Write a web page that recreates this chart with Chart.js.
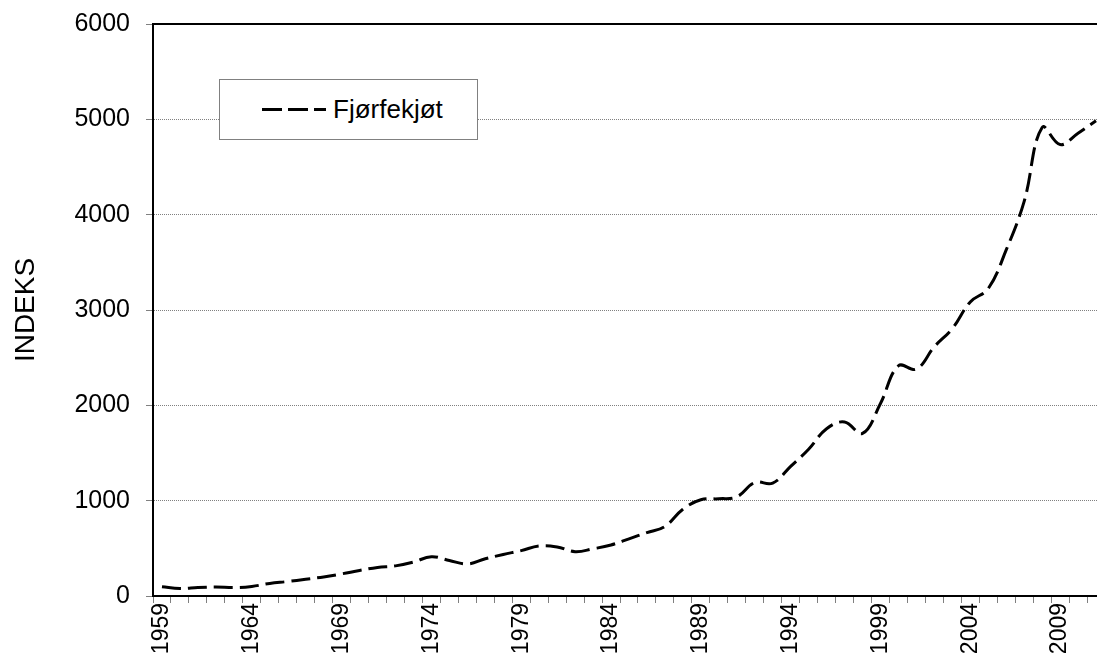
<!DOCTYPE html>
<html>
<head>
<meta charset="utf-8">
<script src="https://cdn.jsdelivr.net/npm/chart.js@4"></script>
<style>
html,body{margin:0;padding:0;background:#fff;overflow:hidden;width:1097px;height:659px}
#wrap{position:relative;width:1105px;height:659px}
canvas{display:block}
#legend{position:absolute;left:219px;top:79px;width:257px;height:59px;border:1px solid #808080;background:#fff;font-family:'Liberation Sans',Arial,sans-serif;color:#000}
#legend svg{position:absolute;left:0;top:0}
#legtext{position:absolute;left:113px;top:16px;font-size:26px;line-height:26px;white-space:nowrap}
</style>
</head>
<body>
<div id="wrap">
<canvas id="c" width="1105" height="659"></canvas>
<div id="legend">
<svg width="257" height="59"><line x1="42" y1="29.5" x2="106" y2="29.5" stroke="#000" stroke-width="3" stroke-dasharray="20 6"/></svg>
<span id="legtext"></span>
</div>
</div>
<script>
const years = ['1959','1960','1961','1962','1963','1964','1965','1966','1967','1968',
  '1969','1970','1971','1972','1973','1974','1975','1976','1977','1978',
  '1979','1980','1981','1982','1983','1984','1985','1986','1987','1988',
  '1989','1990','1991','1992','1993','1994','1995','1996','1997','1998',
  '1999','2000','2001','2002','2003','2004','2005','2006','2007','2008',
  '2009','2010','2011'];
const seriesName = 'Fjørfekjøt';
const values = [98,78,88,95,88,100,132,152,176,200,
  232,268,300,316,356,412,372,336,390,436,
  476,525,515,465,495,535,600,665,730,910,
  1010,1020,1040,1190,1185,1360,1540,1755,1825,1705,
  2020,2415,2380,2615,2805,3085,3225,3630,4140,4915,
  4735,4855,4985];
const tickLabels = ['1959','1964','1969','1974','1979','1984','1989','1994','1999','2004','2009'];
const yTicks = [0,1000,2000,3000,4000,5000,6000];
const axisTitle = 'INDEKS';

document.getElementById('legtext').textContent = seriesName;

const topBorder = {
  id: 'topBorder',
  afterDraw(chart) {
    const {ctx, chartArea: {left, right, top}} = chart;
    ctx.save();
    ctx.strokeStyle = '#000';
    ctx.lineWidth = 2;
    ctx.beginPath();
    ctx.moveTo(left - 1, top);
    ctx.lineTo(right, top);
    ctx.stroke();
    ctx.restore();
  }
};

new Chart(document.getElementById('c'), {
  type: 'line',
  data: {
    labels: years,
    datasets: [{
      label: seriesName,
      data: values,
      borderColor: '#000',
      borderWidth: 3,
      borderDash: [19, 7],
      pointRadius: 0,
      tension: 0.4,
      fill: false
    }]
  },
  options: {
    responsive: false,
    animation: false,
    devicePixelRatio: 1,
    layout: {padding: {top: 24, left: 0, right: 0, bottom: 0}},
    plugins: {legend: {display: false}, tooltip: {enabled: false}},
    scales: {
      x: {
        type: 'category',
        offset: true,
        grid: {display: true, drawOnChartArea: false, offset: true, tickLength: 7, color: '#808080', tickColor: '#808080'},
        border: {display: true, color: '#000', width: 2},
        ticks: {
          autoSkip: false, maxRotation: 90, minRotation: 90, padding: 0, color: '#000',
          font: {family: 'Liberation Sans', size: 23},
          callback: (v, i) => tickLabels.includes(years[i]) ? years[i] : ''
        },
        afterFit: (s) => { s.height = 63; s.paddingLeft = 0; s.paddingRight = 0; }
      },
      y: {
        min: yTicks[0], max: yTicks[yTicks.length - 1],
        afterBuildTicks: (s) => { s.ticks = yTicks.map(v => ({value: v})); },
        ticks: {padding: 16, color: '#000', font: {family: 'Liberation Sans', size: 25}, callback: (v) => String(v)},
        grid: {
          color: (c) => (c.tick && (c.tick.value === 0 || c.tick.value === 6000)) ? 'rgba(0,0,0,0)' : '#808080',
          tickColor: '#808080', tickLength: 7
        },
        border: {color: '#000', width: 2, dash: [1, 1]},
        title: {display: true, text: axisTitle, color: '#000', font: {family: 'Liberation Sans', size: 28}, padding: {top: 9, bottom: 0}},
        afterFit: (s) => { s.width = 153; s.paddingTop = 0; s.paddingBottom = 0; }
      }
    }
  },
  plugins: [topBorder]
});
</script>
</body>
</html>
